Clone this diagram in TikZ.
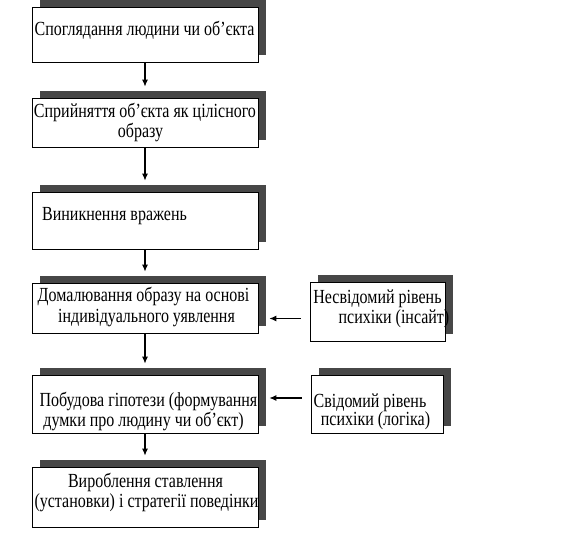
\documentclass[tikz,border=0pt]{standalone}
\usepackage{fontspec}
\setmainfont[FakeStretch=0.8]{Liberation Serif}
\usetikzlibrary{arrows.meta,shadows}
\begin{document}
\begin{tikzpicture}[x=1pt,y=-1pt,
  box/.style={draw=black, line width=0.8pt, fill=white, inner sep=0pt,
    drop shadow={shadow xshift=8pt, shadow yshift=7pt, fill=black!72, opacity=1}},
  txt/.style={font=\fontsize{20}{21}\selectfont, inner sep=0pt, anchor=base},
  arr/.style={-{Latex[length=7pt,width=6pt]}, line width=1.1pt}]
\useasboundingbox (0,0) rectangle (574,548);
\fill[white] (0,0) rectangle (574,548);
% main boxes
\node[box, minimum width=226pt, minimum height=55pt] (b1) at (145,34.5) {};
\node[box, minimum width=226pt, minimum height=49pt] (b2) at (145,122.5) {};
\node[box, minimum width=226pt, minimum height=57pt] (b3) at (145,220.5) {};
\node[box, minimum width=226pt, minimum height=50pt] (b4) at (145,308) {};
\node[box, minimum width=226pt, minimum height=58pt] (b5) at (145,404) {};
\node[box, minimum width=226pt, minimum height=60pt] (b6) at (145,497) {};
% side boxes
\node[box, minimum width=135pt, minimum height=59pt] (bA) at (377.5,311.5) {};
\node[box, minimum width=132pt, minimum height=58pt] (bB) at (377,404) {};
% texts
\node[txt] (t1) at (144.5,36) {Споглядання людини чи об’єкта};
\node[txt] (t2a) at (145,118) {Сприйняття об’єкта як цілісного};
\node[txt] (t2b) at (140.5,138) {образу};
\node[txt, anchor=base west] (t3) at (42,221) {Виникнення вражень};
\node[txt] (t4a) at (143.5,302) {Домалювання образу на основі};
\node[txt] (t4b) at (146.5,323) {індивідуального уявлення};
\node[txt] (t5a) at (148.5,407) {Побудова гіпотези (формування};
\node[txt] (t5b) at (143.5,427) {думки про людину чи об’єкт)};
\node[txt] (t6a) at (145.5,488) {Вироблення ставлення};
\node[txt] (t6b) at (146.5,508) {(установки) і стратегії поведінки};
\node[txt] (tAa) at (377.5,304) {Несвідомий рівень};
\node[txt] (tAb) at (394,324) {психіки (інсайт)};
\node[txt] (tBa) at (370,408) {Свідомий рівень};
\node[txt] (tBb) at (375.5,426) {психіки (логіка)};
% vertical arrows
\draw[arr, shorten >=11pt] (b1.south) -- (b2.north);
\draw[arr, shorten >=11pt] (b2.south) -- (b3.north);
\draw[arr, shorten >=11pt] (b3.south) -- (b4.north);
\draw[arr, shorten >=11pt] (b4.south) -- (b5.north);
\draw[arr, shorten >=11pt] (b5.south) -- (b6.north);
% horizontal arrows
\coordinate (cA) at ([xshift=-9pt,yshift=-7pt]bA.west);
\coordinate (cB) at ([xshift=-9pt,yshift=6pt]bB.west);
\draw[arr, shorten >=11pt] (cA) -- (cA -| b4.east);
\draw[arr, shorten >=11pt] (cB) -- (cB -| b5.east);
\end{tikzpicture}
\end{document}
